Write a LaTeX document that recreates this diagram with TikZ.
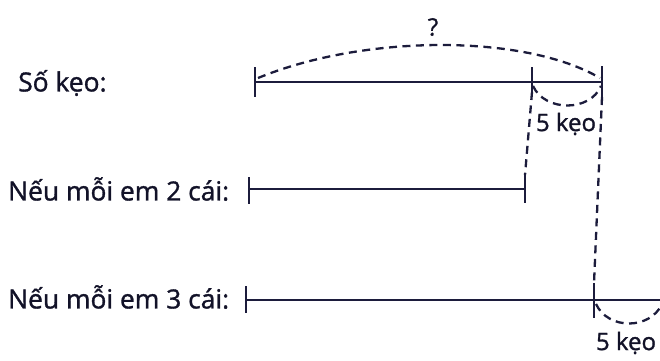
\documentclass[tikz,border=0pt]{standalone}
\usepackage{fontspec}
\setmainfont{Open Sans}[AutoFakeBold=1.2]
\begin{document}
\begin{tikzpicture}[x=1pt,y=-1pt,
  seg/.style={line width=2.1pt,draw=inkc},
  tk/.style={line width=2.1pt,draw=inkc},
  dsh/.style={line width=2.3pt,draw=inkc,dash pattern=on 8pt off 5.5pt},
  lbl/.style={font=\fontsize{26.4}{31}\selectfont\bfseries,text=inkt,inner sep=0pt,anchor=west},
  note/.style={font=\fontsize{24}{28}\selectfont\bfseries,text=inkt,inner sep=0pt}]
\definecolor{inkc}{HTML}{1C1C3C}
\definecolor{inkt}{HTML}{121228}
\useasboundingbox (0,0) rectangle (660,360);
% labels
\node[lbl] (l1) at (18,83) {Số kẹo:};
\node[lbl] (l2) at (8,189) {Nếu mỗi em 2 cái:};
\node[lbl] (l3) at (8,297) {Nếu mỗi em 3 cái:};
% row 1
\coordinate (a0) at (255,82);
\coordinate (a1) at (532,82);
\coordinate (a2) at (602,82);
\draw[seg] (a0) -- (a2);
\draw[tk] (255,67) -- (255,97);
\draw[tk] (532,67) -- (532,92);
\draw[tk] (602,66) -- (602,97);
\draw[dsh] (258,78) .. controls (365,34) and (525,34) .. (600,78);
\node[note] (q) at (433,27) {?};
\draw[dsh] (533,86) .. controls (545,112) and (590,112) .. (601,86);
\node[note] (k1) at (566,124) {5 kẹo};
% row 2
\coordinate (b0) at (249,189);
\coordinate (b1) at (525,189);
\draw[seg] (b0) -- (b1);
\draw[tk] (249,177) -- (249,204);
\draw[tk] (525,175) -- (525,203);
% row 3
\coordinate (c0) at (246,300);
\coordinate (c1) at (594,300);
\coordinate (c2) at (662,300);
\draw[seg] (c0) -- (c2);
\draw[tk] (246,286) -- (246,313);
\draw[tk] (594,283) -- (594,318);
\draw[dsh] (596,304) .. controls (608,330) and (650,330) .. (662,304);
\node[note] (k2) at (626,343) {5 kẹo};
% vertical dashed connectors
\draw[dsh] (532,92) -- (525,175);
\draw[dsh] (602,97) -- (594,283);
\end{tikzpicture}
\end{document}
